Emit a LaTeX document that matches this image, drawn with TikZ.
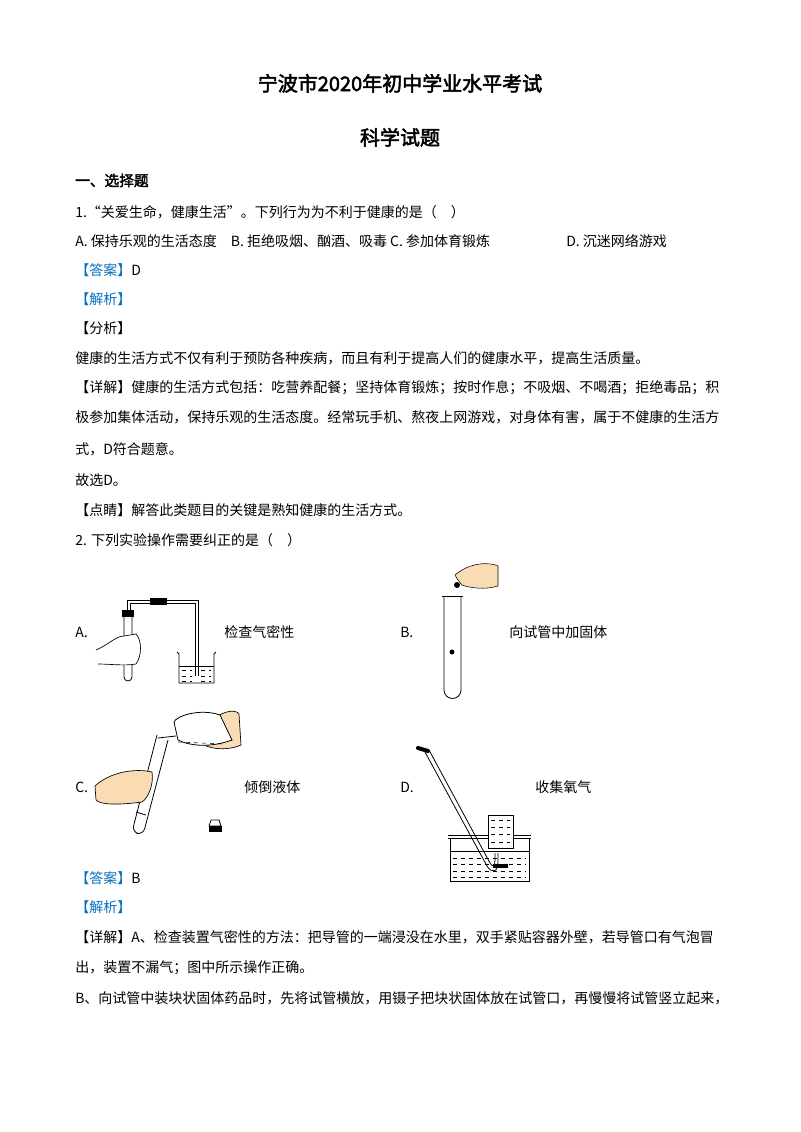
\documentclass[tikz,border=0pt]{standalone}
\usepackage{fontspec}
\setmainfont{Liberation Serif}
\newfontfamily\cjk[AutoFakeBold=2.5]{Noto Sans CJK SC}
\definecolor{ansblue}{RGB}{0,112,192}
\definecolor{skin}{RGB}{250,220,180}
\begin{document}
\begin{tikzpicture}[x=0.75pt,y=-0.75pt,
  tx/.style={anchor=base west,inner sep=0pt,font=\cjk\fontsize{10.5}{12}\selectfont},
  hd/.style={anchor=base,inner sep=0pt,font=\cjk\bfseries\fontsize{15}{18}\selectfont},
  glass/.style={draw=black,line width=0.6pt},
  water/.style={draw=black,line width=0.4pt,dashed}]
\useasboundingbox[fill=white] (0,0) rectangle (800,1132);
\node[hd] (t1) at (400,91) {宁波市2020年初中学业水平考试};
\node[hd] (t2) at (400,145) {科学试题};
\node[tx,font=\cjk\bfseries\fontsize{11}{12}\selectfont] (s1) at (75,186) {一、选择题};
\node[tx] (q1) at (75,217) {1.“关爱生命，健康生活”。下列行为为不利于健康的是（\quad）};
\node[tx] (oa) at (75,246) {A. 保持乐观的生活态度\quad B. 拒绝吸烟、酗酒、吸毒 C. 参加体育锻炼};
\node[tx] (od) at (566,246) {D. 沉迷网络游戏};
\node[tx] (a1) at (75,275) {\textcolor{ansblue}{【答案】}D};
\node[tx] (j1) at (75,304) {\textcolor{ansblue}{【解析】}};
\node[tx] (f1) at (75,333) {【分析】};
\node[tx] (p1) at (75,363) {健康的生活方式不仅有利于预防各种疾病，而且有利于提高人们的健康水平，提高生活质量。};
\node[tx] (p2) at (75,392) {【详解】健康的生活方式包括：吃营养配餐；坚持体育锻炼；按时作息；不吸烟、不喝酒；拒绝毒品；积};
\node[tx] (p3) at (75,422) {极参加集体活动，保持乐观的生活态度。经常玩手机、熬夜上网游戏，对身体有害，属于不健康的生活方};
\node[tx] (p4) at (75,454) {式，D符合题意。};
\node[tx] (p5) at (75,485) {故选D。};
\node[tx] (p6) at (75,515) {【点睛】解答此类题目的关键是熟知健康的生活方式。};
\node[tx] (q2) at (75,545) {2. 下列实验操作需要纠正的是（\quad）};
% labels
\node[tx] (la) at (75,637) {A.};
\node[tx] (lat) at (224,637) {检查气密性};
\node[tx] (lb) at (400,637) {B.};
\node[tx] (lbt) at (509,637) {向试管中加固体};
\node[tx] (lc) at (75,792) {C.};
\node[tx] (lct) at (244,792) {倾倒液体};
\node[tx] (ld) at (400,792) {D.};
\node[tx] (ldt) at (535,792) {收集氧气};
% A apparatus
\draw[glass] (124,616) -- (124,677) arc(180:0:4) -- (132,616);
\fill (122,610) rectangle (134,617);
\draw[glass] (127,610) -- (127,600) -- (198,600) -- (198,676);
\draw[glass] (130,610) -- (130,603) -- (195,603) -- (195,676);
\fill (150,598) rectangle (167,605);
\draw[glass] (177,652) -- (179,654) -- (179,683) -- (214,683) -- (214,654) -- (216,652);
\foreach \y in {670,676,681}{\draw[water] (182,\y) -- (192,\y); \draw[water] (201,\y) -- (211,\y);}
\draw[glass] (179,666) -- (214,666);
\draw[line width=0.5pt,fill=white] (96,650) .. controls (108,645) and (116,636) .. (124,636) -- (136,634) .. controls (142,640) and (142,656) .. (136,664) .. controls (124,666) and (110,664) .. (98,664);
% B apparatus
\draw[glass] (444,596) -- (444,690) arc(180:0:8.5) -- (461,596);
\draw[glass] (442,596) -- (463,596);
\fill (452,652) circle (2.5);
\fill (457,585) circle (3);
\draw[line width=0.4pt,fill=skin] (455,575) .. controls (470,562) and (490,562) .. (498,566) -- (498,586) .. controls (485,590) and (470,588) .. (462,585) .. controls (458,580) and (456,578) .. (455,575);
% C apparatus
\draw[line width=0.5pt,fill=skin] (210,722) .. controls (220,712) and (235,708) .. (239,714) -- (241,745) .. controls (225,752) and (205,748) .. (200,742) -- cycle;
\draw[glass,fill=white] (174,722) .. controls (176,716) and (200,708) .. (220,715) -- (232,740) .. controls (210,748) and (190,746) .. (178,740) -- cycle;
\draw[glass] (158,738) -- (176,736);
\draw[water] (178,742) -- (225,744);
\draw[glass,rounded corners=5] (157,735) -- (132,832) -- (143,835) -- (168,740);
\draw[glass] (136,812) -- (146,815);
\draw[line width=0.5pt,fill=skin] (95,786) .. controls (110,772) and (135,768) .. (152,772) .. controls (154,785) and (148,798) .. (142,802) .. controls (120,805) and (100,805) .. (96,800) -- cycle;
\draw[glass,fill=white] (209,826) -- (211,820) -- (219,820) -- (221,826) -- cycle;
\draw[glass,fill=black] (209,826) rectangle (221,831);
% D apparatus
\draw[glass] (448,835) -- (531,835); \draw[glass] (448,838) -- (531,838);
\draw[glass] (450,838) -- (450,881) -- (529,881) -- (529,838);
\draw[glass] (450,851) -- (529,851);
\foreach \y in {858,864,871,877}{\draw[water] (453,\y) -- (526,\y);}
\draw[glass,fill=white] (488,815) rectangle (513,848);
\foreach \y in {820,827,834,842}{\draw[water] (491,\y) -- (510,\y);}
\draw[glass] (425,752) -- (487,866) .. controls (492,874) and (498,872) .. (498,862) -- (498,853);
\draw[glass] (429,750) -- (490,863) .. controls (493,868) and (495,866) .. (495,860) -- (495,853);
\draw[line width=3pt,line cap=round] (418,748) -- (428,751);
\fill (493,864) rectangle (508,868);
% bottom text
\node[tx] (a2) at (75,883) {\textcolor{ansblue}{【答案】}B};
\node[tx] (j2) at (75,912) {\textcolor{ansblue}{【解析】}};
\node[tx] (d1) at (75,942) {【详解】A、检查装置气密性的方法：把导管的一端浸没在水里，双手紧贴容器外壁，若导管口有气泡冒};
\node[tx] (d2) at (75,972) {出，装置不漏气；图中所示操作正确。};
\node[tx] (d3) at (75,1003) {B、向试管中装块状固体药品时，先将试管横放，用镊子把块状固体放在试管口，再慢慢将试管竖立起来，};
\end{tikzpicture}
\end{document}
